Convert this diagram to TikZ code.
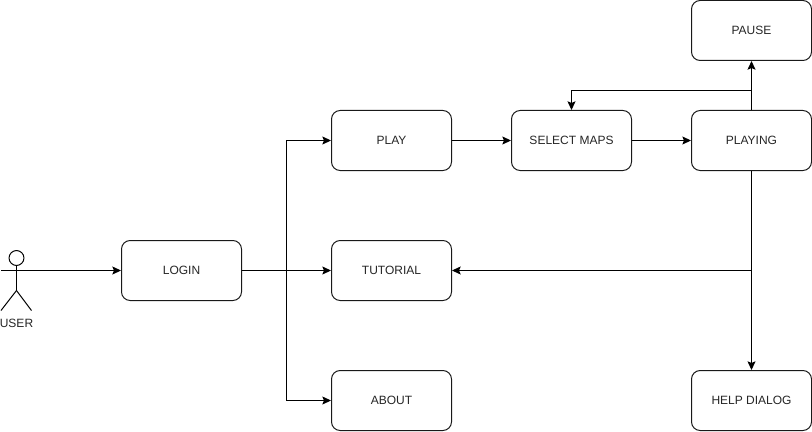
\documentclass[tikz,border=0pt]{standalone}
\usepackage{fontspec}
\setmainfont{Liberation Sans}
\usetikzlibrary{arrows.meta}
\tikzset{
 boxn/.style={draw=black!90,line width=0.75pt,rounded corners=6.5pt,minimum width=90pt,minimum height=45pt,inner sep=0pt,font=\fontsize{9}{11}\selectfont,text=black!85},
 conn/.style={draw=black,line width=0.75pt,-{Stealth[length=6.5pt,width=6pt,inset=1.2pt]}},
 lineonly/.style={draw=black,line width=0.75pt}
}
\begin{document}
\begin{tikzpicture}[x=0.75pt,y=-0.75pt]
\useasboundingbox (0,0) rectangle (812,431);
\fill[white] (0,0) rectangle (812,431);
\node[boxn] (login) at (181.5,270.5) {\raisebox{0.4pt}{LOGIN}};
\node[boxn] (play) at (391.5,140.5) {\raisebox{0.4pt}{PLAY}};
\node[boxn] (tutorial) at (391.5,270.5) {\raisebox{0.4pt}{TUTORIAL}};
\node[boxn] (about) at (391.5,400.5) {\raisebox{0.4pt}{ABOUT}};
\node[boxn] (maps) at (571.5,140.5) {\raisebox{0.4pt}{SELECT MAPS}};
\node[boxn] (playing) at (751.5,140.5) {\raisebox{0.4pt}{PLAYING}};
\node[boxn] (pause) at (751.5,30.5) {\raisebox{0.4pt}{PAUSE}};
\node[boxn] (help) at (751.5,400.5) {\raisebox{0.4pt}{HELP DIALOG}};
% actor
\coordinate (actorhand) at (1,270.5);
\coordinate (actorneck) at (16.5,265.5);
\coordinate (actorhip) at (16.5,290.5);
\coordinate (actorl) at (1,310.5);
\coordinate (actorr) at (31.5,310.5);
\draw[lineonly] (16.5,258) circle[radius=5.6pt];
\draw[lineonly] (actorneck) -- (actorhip);
\draw[lineonly] (actorhip) -- (actorl);
\draw[lineonly] (actorhip) -- (actorr);
\node[font=\fontsize{9}{11}\selectfont,inner sep=0pt,text=black!85] (userlabel) at (16.5,323) {USER};
\draw[conn] (actorhand) -- (login);
\coordinate (j) at (286.5,270.5);
\draw[conn] (login.east) -- (j) |- (play.west);
\draw[conn] (login.east) -- (tutorial.west);
\draw[conn] (j) |- (about.west);
\draw[conn] (play) -- (maps);
\draw[conn] (maps) -- (playing);
\draw[conn] (playing) -- (pause);
\coordinate (k) at (751.5,91);
\draw[conn] (k) -| (maps.north);
\draw[conn] (playing) -- (help);
\coordinate (m) at (751.5,270.5);
\draw[conn] (m) -- (tutorial.east);
\end{tikzpicture}
\end{document}
